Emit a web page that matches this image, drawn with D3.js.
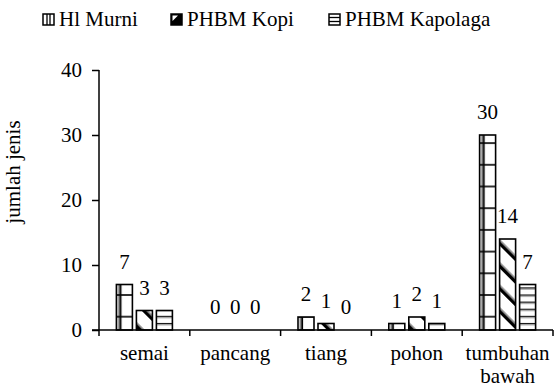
<!DOCTYPE html>
<html>
<head>
<meta charset="utf-8">
<script src="https://cdn.jsdelivr.net/npm/d3@7/dist/d3.min.js"></script>
<style>
  html, body { margin: 0; padding: 0; background: #fff; }
  svg { display: block; }
  svg text { font-family: "Liberation Serif", Tinos, "Times New Roman", Times, FreeSerif !important; }
</style>
</head>
<body>
<svg id="chart" width="555" height="389"></svg>
<script>
// Jumlah jenis per tingkat pertumbuhan
const categories = ["semai", "pancang", "tiang", "pohon", "tumbuhan bawah"];
const seriesNames = ["Hl Murni", "PHBM Kopi", "PHBM Kapolaga"];
const hlMurni = [7, 0, 2, 1, 30];
const phbmKopi = [3, 0, 1, 2, 14];
const phbmKapolaga = [3, 0, 0, 1, 7];
const yTicks = [0, 10, 20, 30, 40];

const seriesValues = [hlMurni, phbmKopi, phbmKapolaga];
const FONT = "21px";

const svg = d3.select("#chart");
const defs = svg.append("defs");
const styleText = sel => sel
  .style("font-family", `"Times New Roman"`)
  .style("font-size", FONT)
  .style("fill", "#000");

const x0 = d3.scaleBand().domain(categories).range([99, 553]).padding(0);
const x1 = d3.scaleBand().domain(seriesNames).range([-30, 30])
  .paddingInner(0.2).paddingOuter(0.1);
const y = d3.scaleLinear().domain([0, 40]).range([330, 70]);

// flat list of bars
const bars = [];
categories.forEach((c, ci) => {
  seriesNames.forEach((s, si) => {
    bars.push({ cat: c, series: s, si, value: seriesValues[si][ci] });
  });
});
const barX = d => x0(d.cat) + x0.bandwidth() / 2 + x1(d.series);
const bw = x1.bandwidth();

// fill patterns, one per bar so the tile lines up with its bar
function addPattern(id, si, px) {
  if (si === 0) {
    // vertical band near the left edge + horizontal rungs
    const p = defs.append("pattern").attr("id", id)
      .attr("patternUnits", "userSpaceOnUse")
      .attr("x", px).attr("y", 316.7 - 21.7 * 20)
      .attr("width", 40).attr("height", 21.7);
    p.append("rect").attr("width", 40).attr("height", 21.7).attr("fill", "#fff");
    p.append("rect").attr("x", 1.5).attr("width", 2).attr("height", 21.7).attr("fill", "#888");
    p.append("rect").attr("x", 3.3).attr("width", 1.8).attr("height", 21.7).attr("fill", "#000");
    p.append("rect").attr("x", 0).attr("y", -0.8).attr("width", 40).attr("height", 1.6).attr("fill", "#000");
    p.append("rect").attr("x", 0).attr("y", 21.7 - 0.8).attr("width", 40).attr("height", 1.6).attr("fill", "#000");
  } else if (si === 1) {
    // heavy diagonal stripes falling to the right
    const p = defs.append("pattern").attr("id", id)
      .attr("patternUnits", "userSpaceOnUse")
      .attr("x", px).attr("y", 0)
      .attr("width", 16).attr("height", 16)
      .attr("patternTransform", "rotate(-45)");
    p.append("rect").attr("width", 16).attr("height", 16).attr("fill", "#fff");
    p.append("rect").attr("x", 0).attr("width", 3.6).attr("height", 16).attr("fill", "#000");
    p.append("rect").attr("x", 3.6).attr("width", 1.2).attr("height", 16).attr("fill", "#999");
  } else {
    // close horizontal lines
    const p = defs.append("pattern").attr("id", id)
      .attr("patternUnits", "userSpaceOnUse")
      .attr("x", px).attr("y", 330)
      .attr("width", 40).attr("height", 7.1);
    p.append("rect").attr("width", 40).attr("height", 7.1).attr("fill", "#fff");
    p.append("rect").attr("y", 0).attr("width", 40).attr("height", 1.3).attr("fill", "#000");
    p.append("rect").attr("y", 1.3).attr("width", 40).attr("height", 1.2).attr("fill", "#aaa");
  }
}
bars.forEach((d, i) => { d.pid = "pat" + i; addPattern(d.pid, d.si, barX(d)); });

// bars
svg.append("g").selectAll("rect").data(bars.filter(d => d.value > 0)).join("rect")
  .attr("x", barX)
  .attr("y", d => y(d.value))
  .attr("width", bw)
  .attr("height", d => y(0) - y(d.value))
  .attr("fill", d => `url(#${d.pid})`)
  .attr("stroke", "#000")
  .attr("stroke-width", 1.6);

// value labels
svg.append("g").selectAll("text").data(bars).join("text")
  .attr("x", d => barX(d) + bw / 2)
  .attr("y", d => y(d.value) - 16)
  .attr("text-anchor", "middle")
  .call(styleText)
  .text(d => d.value);

// y axis
const yAxis = svg.append("g").attr("transform", "translate(99,0)")
  .call(d3.axisLeft(y).tickValues(yTicks).tickSize(7).tickPadding(10));
yAxis.attr("font-family", null).attr("font-size", null);
yAxis.selectAll("text").call(styleText);
yAxis.selectAll("path, line").attr("stroke", "#000").attr("stroke-width", 1.5);
yAxis.select(".domain").attr("d", "M0,70V330");

// x axis: line with ticks at category boundaries
const xg = svg.append("g");
xg.append("line").attr("x1", 92).attr("x2", 553).attr("y1", y(0)).attr("y2", y(0))
  .attr("stroke", "#000").attr("stroke-width", 1.5);
const bounds = categories.map(c => x0(c)).concat([x0.range()[1]]);
xg.selectAll("line.tk").data(bounds).join("line").attr("class", "tk")
  .attr("x1", d => d).attr("x2", d => d)
  .attr("y1", y(0)).attr("y2", y(0) + 6)
  .attr("stroke", "#000").attr("stroke-width", 1.5);
const catLabels = xg.selectAll("text.cat").data(categories).join("text").attr("class", "cat")
  .attr("x", c => x0(c) + x0.bandwidth() / 2)
  .attr("y", 360)
  .attr("text-anchor", "middle")
  .call(styleText);
catLabels.each(function (c) {
  const words = c === "tumbuhan bawah" ? ["tumbuhan", "bawah"] : [c];
  const t = d3.select(this);
  words.forEach((w, i) => {
    t.append("tspan").attr("x", x0(c) + x0.bandwidth() / 2).attr("dy", i === 0 ? 0 : 23).text(w);
  });
});

// y axis title
svg.append("text")
  .attr("transform", "translate(20,172) rotate(-90)")
  .attr("text-anchor", "middle")
  .call(styleText)
  .text("jumlah jenis");

// legend
const legendX = [43, 171, 329];
const lg = svg.append("g");
seriesNames.forEach((s, i) => {
  const lx = legendX[i], ly = 14, ls = 11;
  const key = lg.append("g");
  key.append("rect").attr("x", lx).attr("y", ly).attr("width", ls).attr("height", ls)
    .attr("fill", "#fff").attr("stroke", "#000").attr("stroke-width", 1.5);
  if (i === 0) {
    [lx + 4, lx + 7].forEach(vx => key.append("line")
      .attr("x1", vx).attr("x2", vx).attr("y1", ly).attr("y2", ly + ls)
      .attr("stroke", "#000").attr("stroke-width", 1.3));
  } else if (i === 1) {
    key.append("rect").attr("x", lx).attr("y", ly).attr("width", ls).attr("height", ls).attr("fill", "#000");
    key.append("path")
      .attr("d", `M${lx + 1.5},${ly + 1.5}H${lx + 7}L${lx + 1.5},${ly + 7}Z`)
      .attr("fill", "#fff");
  } else {
    [ly + 3.5, ly + 7.5].forEach(hy => key.append("line")
      .attr("x1", lx).attr("x2", lx + ls).attr("y1", hy).attr("y2", hy)
      .attr("stroke", "#000").attr("stroke-width", 1.3));
  }
  lg.append("text").attr("x", lx + 16).attr("y", 26).call(styleText).text(s);
});
</script>
</body>
</html>
